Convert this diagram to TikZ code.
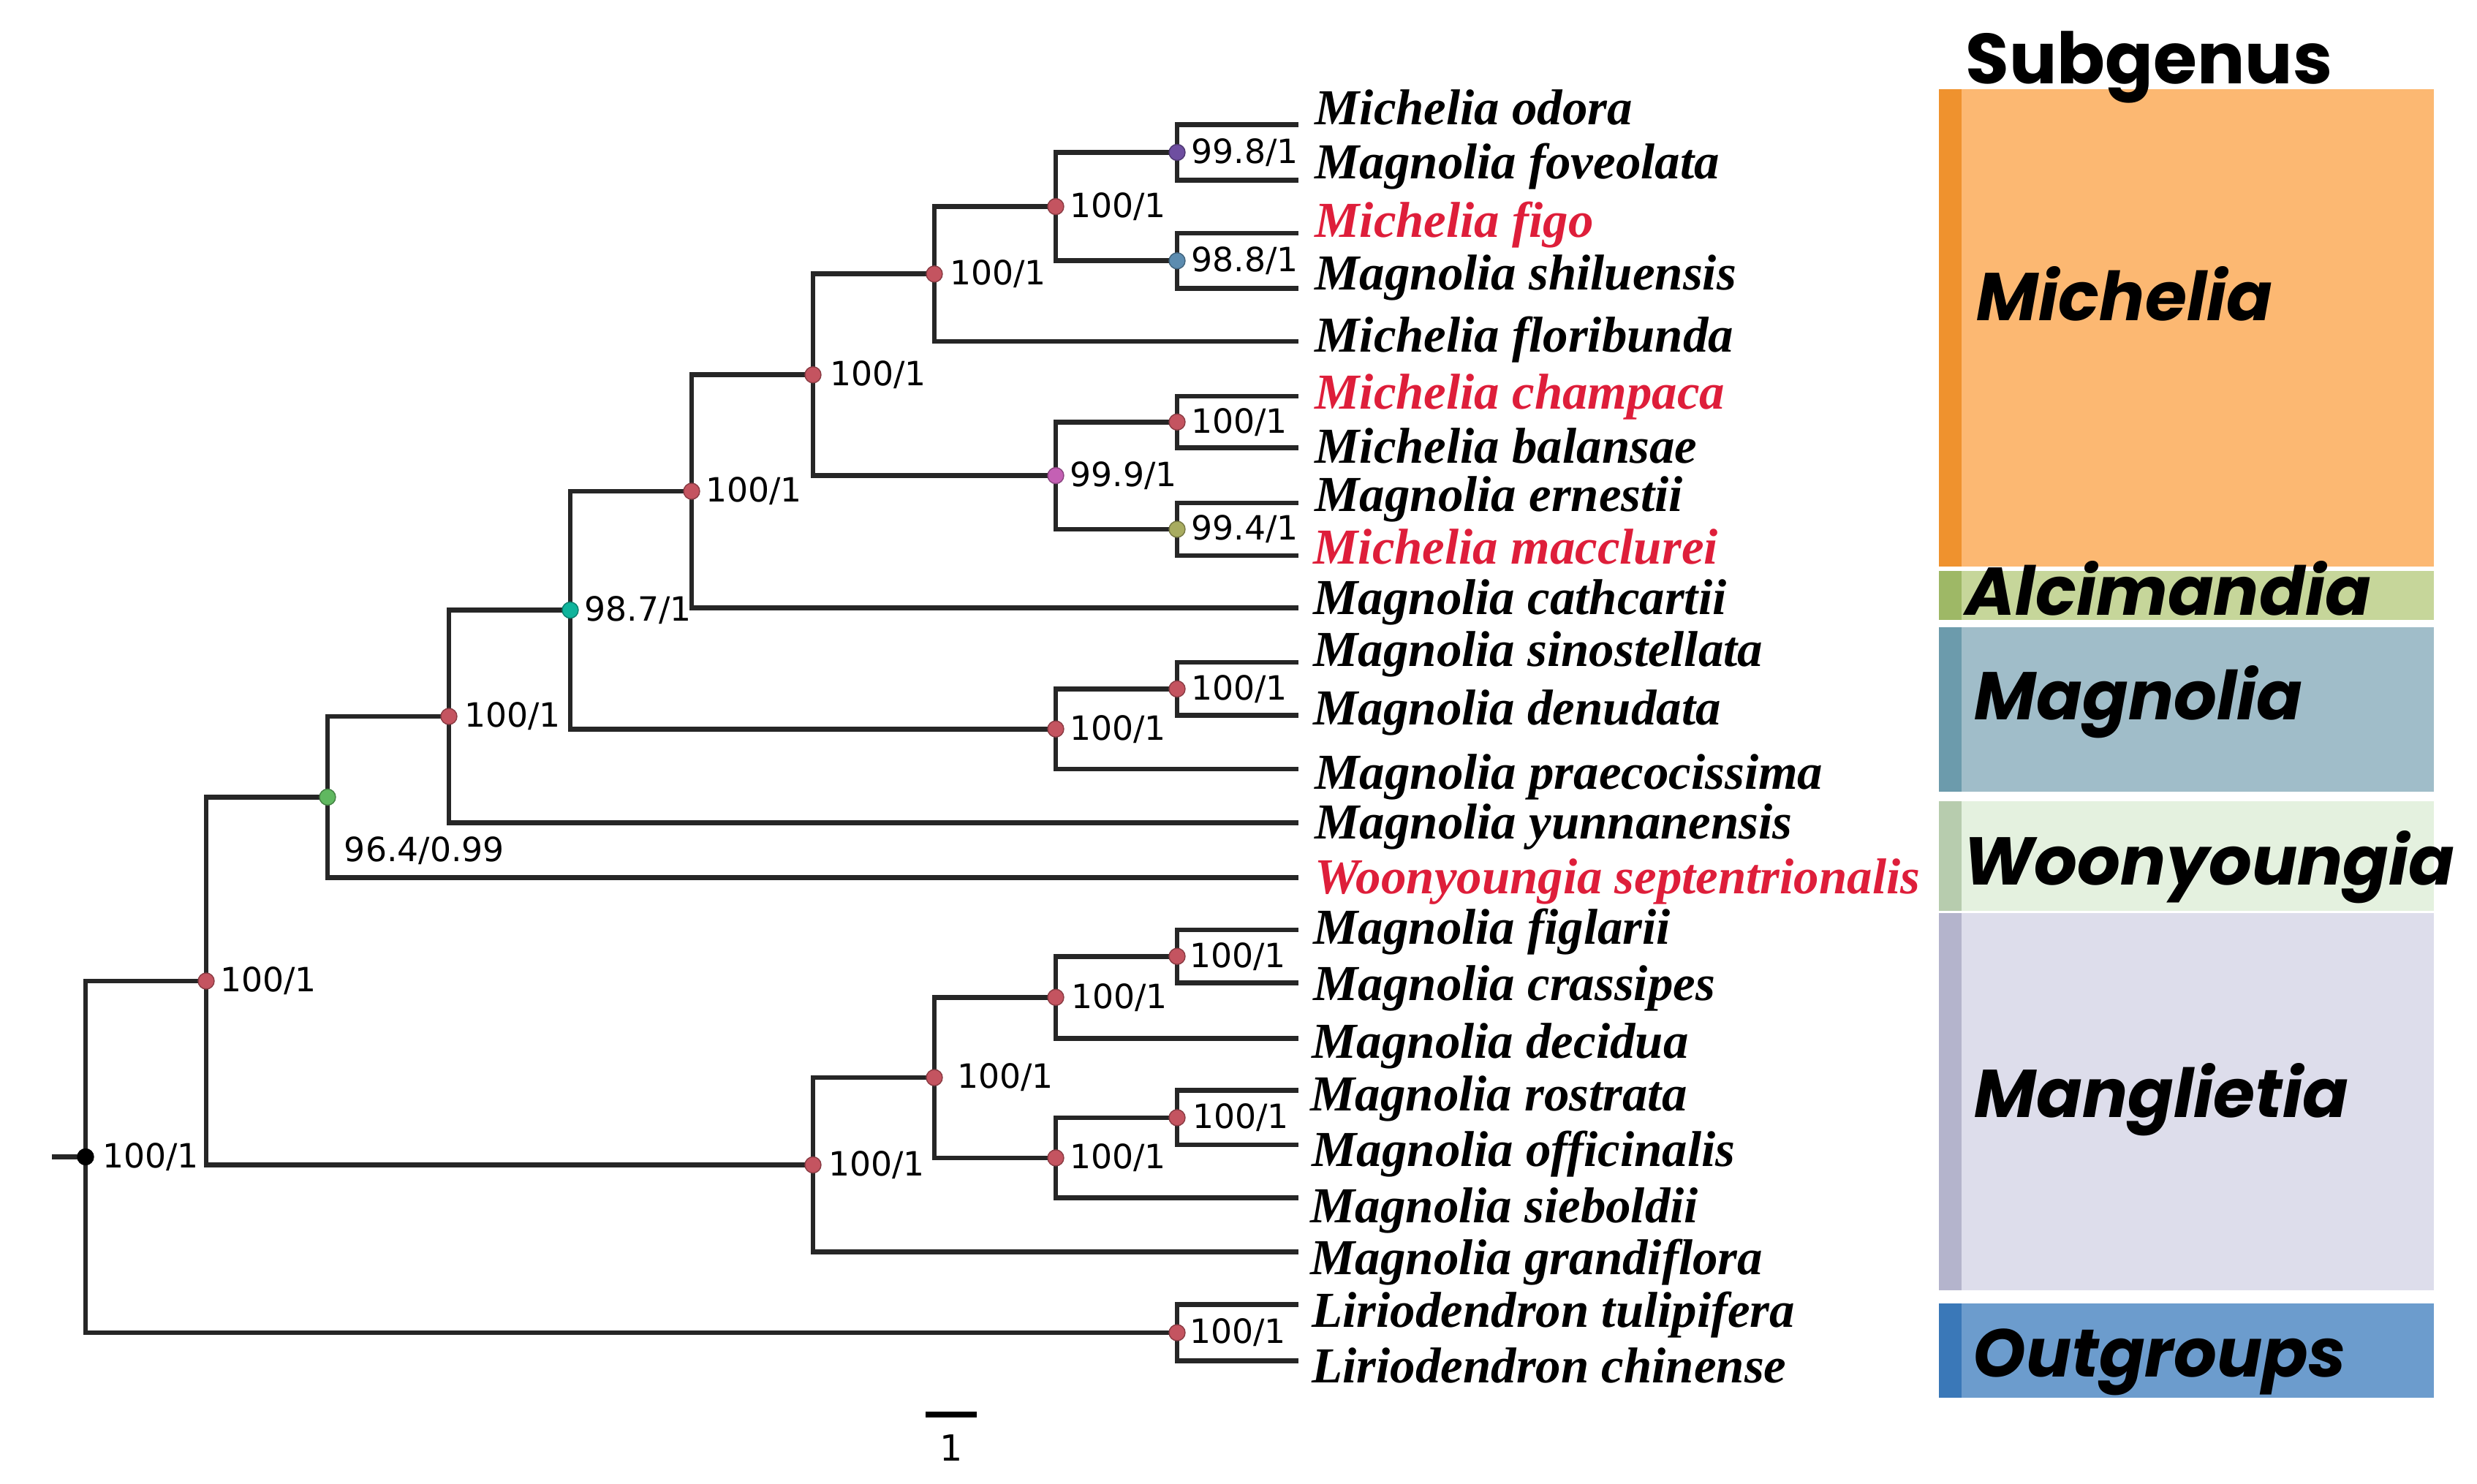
\documentclass[tikz,border=0pt]{standalone}
\usepackage{fontspec}
\setmainfont{Liberation Serif}
\newfontfamily\supfont{DejaVu Sans}
\newfontfamily\grpfont{Poppins}
\usetikzlibrary{positioning,backgrounds}

\definecolor{nodeRed}{RGB}{196,84,96}
\definecolor{nodePurple}{RGB}{110,78,160}
\definecolor{nodeBlue}{RGB}{92,140,176}
\definecolor{nodePink}{RGB}{196,96,180}
\definecolor{nodeOlive}{RGB}{168,172,96}
\definecolor{nodeTeal}{RGB}{16,180,156}
\definecolor{nodeGreen}{RGB}{96,184,96}
\definecolor{taxRed}{RGB}{222,30,58}
\definecolor{michFill}{RGB}{252,184,114}
\definecolor{michStrip}{RGB}{239,146,46}
\definecolor{alcFill}{RGB}{198,214,154}
\definecolor{alcStrip}{RGB}{158,184,102}
\definecolor{magFill}{RGB}{160,189,201}
\definecolor{magStrip}{RGB}{108,155,172}
\definecolor{woonFill}{RGB}{228,241,223}
\definecolor{woonStrip}{RGB}{183,204,174}
\definecolor{mangFill}{RGB}{221,221,235}
\definecolor{mangStrip}{RGB}{180,180,204}
\definecolor{outFill}{RGB}{108,156,205}
\definecolor{outStrip}{RGB}{58,120,184}

\begin{document}
\begin{tikzpicture}[
    br/.style={line width=1.9pt, draw=black!85},
    bsn/.style={circle, inner sep=0pt, minimum size=0.22cm, fill=#1, draw=#1!70!black, line width=0.4pt},
    sup/.style={font=\supfont\fontsize{13}{15}\selectfont, inner sep=0pt},
    taxon/.style={anchor=base west, inner sep=0pt, font=\bfseries\itshape\fontsize{19.6}{22}\selectfont},
    grp/.style={anchor=base west, inner sep=0pt, font=\grpfont\bfseries\itshape\fontsize{26.3}{30}\selectfont},
  ]
    \useasboundingbox (0,0) rectangle (33.88,-20.30);

    % subgenus blocks
    \fill[michFill]  (26.52,-1.22)  rectangle (33.29,-7.75);
    \fill[michStrip] (26.52,-1.22)  rectangle (26.83,-7.75);
    \fill[alcFill]   (26.52,-7.81)  rectangle (33.29,-8.48);
    \fill[alcStrip]  (26.52,-7.81)  rectangle (26.83,-8.48);
    \fill[magFill]   (26.52,-8.58)  rectangle (33.29,-10.83);
    \fill[magStrip]  (26.52,-8.58)  rectangle (26.83,-10.83);
    \fill[woonFill]  (26.52,-10.96) rectangle (33.29,-12.46);
    \fill[woonStrip] (26.52,-10.96) rectangle (26.83,-12.46);
    \fill[mangFill]  (26.52,-12.49) rectangle (33.29,-17.65);
    \fill[mangStrip] (26.52,-12.49) rectangle (26.83,-17.65);
    \fill[outFill]   (26.52,-17.83) rectangle (33.29,-19.12);
    \fill[outStrip]  (26.52,-17.83) rectangle (26.83,-19.12);

    \node[grp, font=\grpfont\bfseries\fontsize{27.6}{30}\selectfont] (hdr) at (26.88,-1.15) {Subgenus};
    \node[grp] (gMich) at (27.03,-4.39)  {Michelia};
    \node[grp] (gAlc)  at (26.88,-8.42)  {Alcimandia};
    \node[grp] (gMag)  at (27.00,-9.85)  {Magnolia};
    \node[grp] (gWoon) at (26.85,-12.10) {Woonyoungia};
    \node[grp] (gMang) at (27.00,-15.28) {Manglietia};
    \node[grp] (gOut)  at (26.98,-18.83) {Outgroups};

    % tips
    \coordinate (t1)  at (17.76,-1.705);
    \coordinate (t2)  at (17.76,-2.464);
    \coordinate (t3)  at (17.76,-3.190);
    \coordinate (t4)  at (17.76,-3.946);
    \coordinate (t5)  at (17.76,-4.670);
    \coordinate (t6)  at (17.76,-5.420);
    \coordinate (t7)  at (17.76,-6.125);
    \coordinate (t8)  at (17.76,-6.880);
    \coordinate (t9)  at (17.76,-7.600);
    \coordinate (t10) at (17.76,-8.314);
    \coordinate (t11) at (17.76,-9.060);
    \coordinate (t12) at (17.76,-9.787);
    \coordinate (t13) at (17.76,-10.520);
    \coordinate (t14) at (17.76,-11.253);
    \coordinate (t15) at (17.76,-12.007);
    \coordinate (t16) at (17.76,-12.720);
    \coordinate (t17) at (17.76,-13.444);
    \coordinate (t18) at (17.76,-14.204);
    \coordinate (t19) at (17.76,-14.918);
    \coordinate (t20) at (17.76,-15.660);
    \coordinate (t21) at (17.76,-16.388);
    \coordinate (t22) at (17.76,-17.128);
    \coordinate (t23) at (17.76,-17.842);
    \coordinate (t24) at (17.76,-18.617);

    \node[taxon] (l1)  at (17.98,-1.71)  {Michelia odora};
    \node[taxon] (l2)  at (17.98,-2.45)  {Magnolia foveolata};
    \node[taxon, taxRed] (l3) at (17.98,-3.25) {Michelia figo};
    \node[taxon] (l4)  at (17.98,-3.97)  {Magnolia shiluensis};
    \node[taxon] (l5)  at (17.98,-4.82)  {Michelia floribunda};
    \node[taxon, taxRed] (l6) at (17.98,-5.60) {Michelia champaca};
    \node[taxon] (l7)  at (17.98,-6.335) {Michelia balansae};
    \node[taxon] (l8)  at (17.98,-7.00)  {Magnolia ernestii};
    \node[taxon, taxRed] (l9) at (17.96,-7.72) {Michelia macclurei};
    \node[taxon] (l10) at (17.96,-8.405) {Magnolia cathcartii};
    \node[taxon] (l11) at (17.96,-9.12)  {Magnolia sinostellata};
    \node[taxon] (l12) at (17.96,-9.92)  {Magnolia denudata};
    \node[taxon] (l13) at (17.98,-10.79) {Magnolia praecocissima};
    \node[taxon] (l14) at (17.98,-11.48) {Magnolia yunnanensis};
    \node[taxon, taxRed] (l15) at (17.98,-12.22) {Woonyoungia septentrionalis};
    \node[taxon] (l16) at (17.96,-12.91) {Magnolia figlarii};
    \node[taxon] (l17) at (17.96,-13.68) {Magnolia crassipes};
    \node[taxon] (l18) at (17.94,-14.47) {Magnolia decidua};
    \node[taxon] (l19) at (17.92,-15.19) {Magnolia rostrata};
    \node[taxon] (l20) at (17.94,-15.95) {Magnolia officinalis};
    \node[taxon] (l21) at (17.92,-16.72) {Magnolia sieboldii};
    \node[taxon] (l22) at (17.92,-17.43) {Magnolia grandiflora};
    \node[taxon] (l23) at (17.94,-18.15) {Liriodendron tulipifera};
    \node[taxon] (l24) at (17.94,-18.91) {Liriodendron chinense};

    % internal nodes, tip side first
    \node[bsn=nodePurple] (a1) at (16.10,-2.085)  {};
    \node[bsn=nodeBlue]   (a2) at (16.10,-3.568)  {};
    \node[bsn=nodeRed]    (b1) at (14.44,-2.826)  {};
    \node[bsn=nodeRed]    (c1) at (12.78,-3.748)  {};
    \node[bsn=nodeRed]    (a3) at (16.10,-5.773)  {};
    \node[bsn=nodeOlive]  (a4) at (16.10,-7.240)  {};
    \node[bsn=nodePink]   (b2) at (14.44,-6.506)  {};
    \node[bsn=nodeRed]    (d1) at (11.12,-5.127)  {};
    \node[bsn=nodeRed]    (e1) at (9.46,-6.720)   {};
    \node[bsn=nodeRed]    (a5) at (16.10,-9.424)  {};
    \node[bsn=nodeRed]    (b3) at (14.44,-9.972)  {};
    \node[bsn=nodeTeal]   (f1) at (7.80,-8.346)   {};
    \node[bsn=nodeRed]    (g1) at (6.14,-9.800)   {};
    \node[bsn=nodeGreen]  (h1) at (4.48,-10.904)  {};
    \node[bsn=nodeRed]    (a6) at (16.10,-13.082) {};
    \node[bsn=nodeRed]    (b4) at (14.44,-13.643) {};
    \node[bsn=nodeRed]    (a7) at (16.10,-15.289) {};
    \node[bsn=nodeRed]    (b5) at (14.44,-15.839) {};
    \node[bsn=nodeRed]    (c2) at (12.78,-14.741) {};
    \node[bsn=nodeRed]    (d2) at (11.12,-15.935) {};
    \node[bsn=nodeRed]    (i1) at (2.82,-13.420)  {};
    \node[bsn=nodeRed]    (a8) at (16.10,-18.230) {};
    \node[bsn=black]      (root) at (1.17,-15.825) {};
    \coordinate (stub) at (0.71,-15.825);

    % support values
    \node[sup, right=0.07cm of a1] (s1)  {99.8/1};
    \node[sup, right=0.07cm of a2] (s2)  {98.8/1};
    \node[sup, right=0.07cm of b1] (s3)  {100/1};
    \node[sup, right=0.09cm of c1] (s4)  {100/1};
    \node[sup, right=0.07cm of a3] (s5)  {100/1};
    \node[sup, right=0.07cm of a4] (s6)  {99.4/1};
    \node[sup, right=0.07cm of b2] (s7)  {99.9/1};
    \node[sup, right=0.11cm of d1] (s8)  {100/1};
    \node[sup, right=0.07cm of e1] (s9)  {100/1};
    \node[sup, right=0.07cm of a5] (s10) {100/1};
    \node[sup, right=0.07cm of b3] (s11) {100/1};
    \node[sup, right=0.07cm of f1] (s12) {98.7/1};
    \node[sup, right=0.09cm of g1] (s13) {100/1};
    \node[sup, below right=0.45cm and 0.14cm of h1] (s14) {96.4/0.99};
    \node[sup, right=0.05cm of a6] (s15) {100/1};
    \node[sup, right=0.09cm of b4] (s16) {100/1};
    \node[sup, right=0.19cm of c2] (s17) {100/1};
    \node[sup, right=0.09cm of a7] (s18) {100/1};
    \node[sup, right=0.07cm of b5] (s19) {100/1};
    \node[sup, right=0.09cm of d2] (s20) {100/1};
    \node[sup, right=0.07cm of i1] (s21) {100/1};
    \node[sup, right=0.11cm of root] (s22) {100/1};
    \node[sup, right=0.05cm of a8] (s23) {100/1};

    % branches
    \begin{scope}[on background layer]
      \draw[br] (t1) -| (a1.center) |- (t2);
      \draw[br] (t3) -| (a2.center) |- (t4);
      \draw[br] (a1.center) -| (b1.center) |- (a2.center);
      \draw[br] (b1.center) -| (c1.center) |- (t5);
      \draw[br] (t6) -| (a3.center) |- (t7);
      \draw[br] (t8) -| (a4.center) |- (t9);
      \draw[br] (a3.center) -| (b2.center) |- (a4.center);
      \draw[br] (c1.center) -| (d1.center) |- (b2.center);
      \draw[br] (d1.center) -| (e1.center) |- (t10);
      \draw[br] (t11) -| (a5.center) |- (t12);
      \draw[br] (a5.center) -| (b3.center) |- (t13);
      \draw[br] (e1.center) -| (f1.center) |- (b3.center);
      \draw[br] (f1.center) -| (g1.center) |- (t14);
      \draw[br] (g1.center) -| (h1.center) |- (t15);
      \draw[br] (t16) -| (a6.center) |- (t17);
      \draw[br] (a6.center) -| (b4.center) |- (t18);
      \draw[br] (t19) -| (a7.center) |- (t20);
      \draw[br] (a7.center) -| (b5.center) |- (t21);
      \draw[br] (b4.center) -| (c2.center) |- (b5.center);
      \draw[br] (c2.center) -| (d2.center) |- (t22);
      \draw[br] (h1.center) -| (i1.center) |- (d2.center);
      \draw[br] (t23) -| (a8.center) |- (t24);
      \draw[br] (i1.center) -| (root.center) |- (a8.center);
      \draw[br] (stub) -- (root.center);
    \end{scope}

    % scale bar
    \coordinate (sb1) at (12.66,-19.35);
    \coordinate (sb2) at (13.36,-19.35);
    \draw[line width=2.2pt] (sb1) -- (sb2);
    \node[sup, font=\supfont\fontsize{14}{16}\selectfont] (sbl) at (13.01,-19.81) {1};
  \end{tikzpicture}
\end{document}
